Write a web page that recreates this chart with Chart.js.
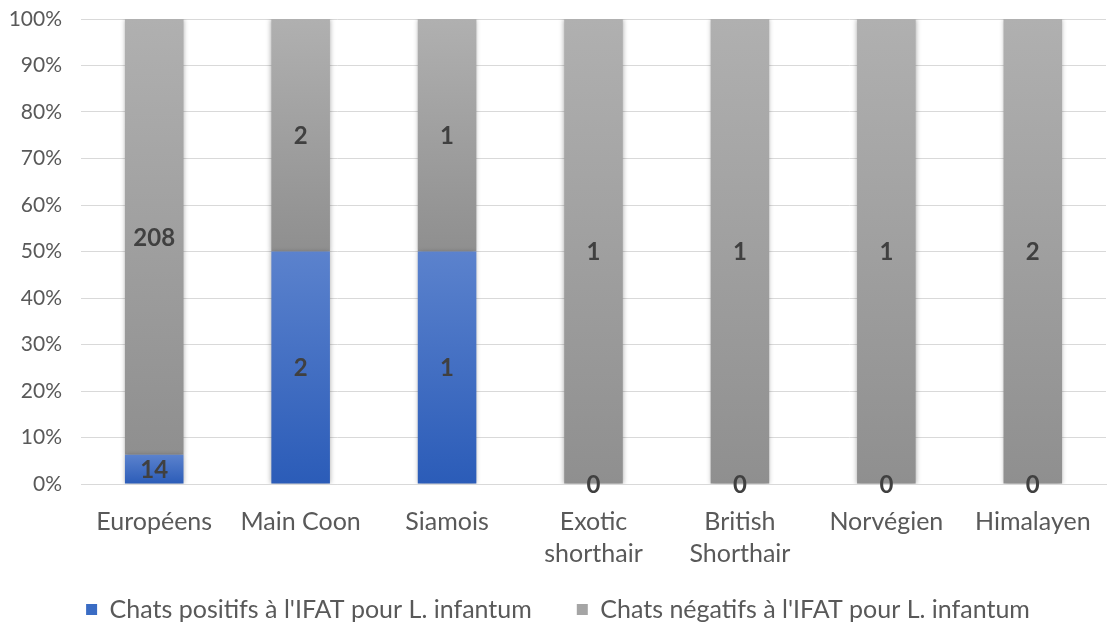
<!DOCTYPE html>
<html>
<head>
<meta charset="utf-8">
<script src="https://cdn.jsdelivr.net/npm/chart.js@4"></script>
<style>
  html, body { margin: 0; padding: 0; background: #fff; }
  #wrap { width: 1107px; height: 627px; }
</style>
</head>
<body>
<div id="wrap"><canvas id="catChart" width="1107" height="627"></canvas></div>
<script>
// Data
const breeds = ['Européens', 'Main Coon', 'Siamois', ['Exotic', 'shorthair'], ['British', 'Shorthair'], 'Norvégien', 'Himalayen'];
const positiveCounts = [14, 2, 1, 0, 0, 0, 0];
const negativeCounts = [208, 2, 1, 1, 1, 1, 2];
const seriesNames = ["Chats positifs à l'IFAT pour L. infantum", "Chats négatifs à l'IFAT pour L. infantum"];
const yTicks = [0, 10, 20, 30, 40, 50, 60, 70, 80, 90, 100];

// 100% stacked: turn counts into shares
const totals = positiveCounts.map((p, i) => p + negativeCounts[i]);
const positivePct = positiveCounts.map((p, i) => p / totals[i] * 100);
const negativePct = negativeCounts.map((n, i) => n / totals[i] * 100);
const rawCounts = [positiveCounts, negativeCounts];

const FONT = 'Lato, "Open Sans", sans-serif';

const gradStops = [
    ['#5b82cd', '#2b5cb8'],
    ['#b0b0b0', '#8f8f8f']
];

// each segment gets its own top-to-bottom gradient, like the Excel fill
function segmentFill(context) {
    const chart = context.chart;
    const yScale = chart.scales.y;
    if (!yScale || !chart.chartArea) return gradStops[context.datasetIndex][1];
    const i = context.dataIndex;
    let lo, hi;
    if (context.datasetIndex === 0) { lo = 0; hi = positivePct[i]; }
    else { lo = positivePct[i]; hi = 100; }
    const top = yScale.getPixelForValue(hi);
    const bottom = yScale.getPixelForValue(lo);
    if (!isFinite(top) || !isFinite(bottom) || bottom - top < 1) return gradStops[context.datasetIndex][1];
    const g = chart.ctx.createLinearGradient(0, top, 0, bottom);
    g.addColorStop(0, gradStops[context.datasetIndex][0]);
    g.addColorStop(1, gradStops[context.datasetIndex][1]);
    return g;
}

// soft shadow round the bars
const barShadow = {
    id: 'barShadow',
    beforeDatasetsDraw(chart) {
        const ctx = chart.ctx;
        ctx.save();
        ctx.shadowColor = 'rgba(0,0,0,0.35)';
        ctx.shadowBlur = 5;
        ctx.shadowOffsetX = 0;
        ctx.shadowOffsetY = 0;
    },
    afterDatasetsDraw(chart) {
        chart.ctx.restore();
    }
};

// the x axis box was shortened so the legend can sit closer; let its labels draw past it
const unclipX = {
    id: 'unclipX',
    afterLayout(chart) {
        chart.scales.x.bottom = chart.height;
    }
};

// counts written in the middle of each segment
const segmentLabels = {
    id: 'segmentLabels',
    afterDatasetsDraw(chart) {
        const ctx = chart.ctx;
        ctx.save();
        ctx.font = 'bold 24px ' + FONT;
        ctx.fillStyle = '#404040';
        ctx.textAlign = 'center';
        ctx.textBaseline = 'middle';
        chart.data.datasets.forEach((ds, di) => {
            const meta = chart.getDatasetMeta(di);
            meta.data.forEach((bar, i) => {
                const yMid = (bar.y + bar.base) / 2;
                ctx.fillText(String(rawCounts[di][i]), bar.x, yMid + 1);
            });
        });
        ctx.restore();
    }
};

function initializeChart() {
    const ctx = document.getElementById('catChart').getContext('2d');
    new Chart(ctx, {
        type: 'bar',
        data: {
            labels: breeds,
            datasets: [{
                label: seriesNames[0],
                data: positivePct,
                backgroundColor: segmentFill,
                borderWidth: 0
            }, {
                label: seriesNames[1],
                data: negativePct,
                backgroundColor: segmentFill,
                borderWidth: 0
            }]
        },
        options: {
            responsive: false,
            animation: false,
            devicePixelRatio: 1,
            categoryPercentage: 1,
            barPercentage: 0.4,
            layout: { padding: { top: 19, right: 1, left: 10, bottom: -5 } },
            scales: {
                x: {
                    stacked: true,
                    grid: { display: false, drawTicks: false },
                    border: { display: true, color: '#d9d9d9' },
                    ticks: {
                        color: '#595959',
                        font: { family: FONT, size: 25, lineHeight: 1.28 },
                        padding: 22,
                        maxRotation: 0,
                        autoSkip: false
                    },
                    afterFit(axis) {
                        axis.paddingLeft = 0;
                        axis.paddingRight = 0;
                        axis.height -= 40;
                    }
                },
                y: {
                    stacked: true,
                    min: 0,
                    max: 100,
                    afterBuildTicks(axis) {
                        axis.ticks = yTicks.map(v => ({ value: v }));
                    },
                    grid: { color: '#d9d9d9', lineWidth: 1, drawTicks: false },
                    border: { display: false },
                    ticks: {
                        color: '#595959',
                        font: { family: FONT, size: 21 },
                        padding: 19,
                        callback: v => v + '%'
                    },
                    afterFit(axis) {
                        axis.width = 71;
                        axis.paddingTop = 0;
                        axis.paddingBottom = 0;
                    }
                }
            },
            plugins: {
                tooltip: { enabled: false },
                legend: {
                    position: 'bottom',
                    labels: {
                        color: '#595959',
                        font: { family: FONT, size: 25 },
                        boxWidth: 11,
                        boxHeight: 11,
                        padding: 45,
                        generateLabels(chart) {
                            return chart.data.datasets.map((ds, i) => ({
                                text: ds.label,
                                fillStyle: i === 0 ? '#3a6cc4' : '#a5a5a5',
                                strokeStyle: 'transparent',
                                lineWidth: 0,
                                fontColor: '#595959',
                                datasetIndex: i
                            }));
                        }
                    }
                }
            }
        },
        plugins: [barShadow, unclipX, segmentLabels]
    });
}

initializeChart();
</script>
</body>
</html>
